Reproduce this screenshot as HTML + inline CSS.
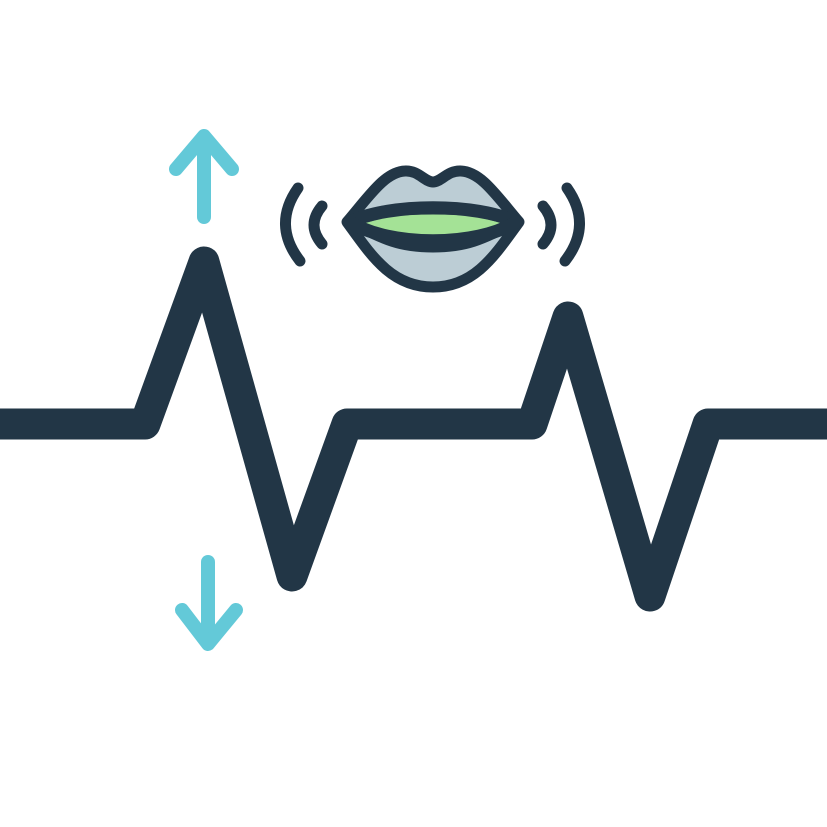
<!DOCTYPE html>
<html><head><meta charset="utf-8"><style>html,body{margin:0;padding:0;background:#fff}svg{display:block}</style></head>
<body>
<svg width="827" height="827" viewBox="0 0 827 827" xmlns="http://www.w3.org/2000/svg">
<rect width="827" height="827" fill="#fff"/>
<polyline points="-10,424 145,424 204,262 292,576 347,424 532,424 568,317 650,596 708,424 840,424" fill="none" stroke="#223646" stroke-width="31" stroke-linejoin="round" stroke-linecap="round"/>
<g fill="none" stroke="#63c9d8" stroke-width="14" stroke-linecap="round" stroke-linejoin="round">
<line x1="204" y1="142" x2="204" y2="217"/>
<polyline points="176,169 204,136 232,169"/>
<line x1="208" y1="562" x2="208" y2="640"/>
<polyline points="182,610 208,644 236,610"/>
</g>
<g fill="none" stroke="#223646" stroke-width="11" stroke-linecap="round">
<path d="M298,188 Q272,225 300,261"/>
<path d="M322,206 Q306,225 322,244"/>
<path d="M567,188 Q593,225 565,261"/>
<path d="M543,206 Q559,225 543,244"/>
</g>
<path d="M347,222 C370,195 385,172 405,171 C418,170 425,182 433,182 C441,182 448,170 461,171 C481,172 496,195 519,222 C495,255 475,287 433,287 C391,287 371,255 347,222 Z" fill="#bccdd5" stroke="#223646" stroke-width="11" stroke-linejoin="round"/>
<path d="M350,222 C385,210 400,209 433,209 C466,209 481,210 516,222 C481,240 466,247 433,247 C400,247 385,240 350,222 Z" fill="#a4e296" stroke="#223646" stroke-width="11" stroke-linejoin="round"/>
<path d="M350,222 C390,203 476,203 516,222" fill="none" stroke="#223646" stroke-width="13" stroke-linecap="round"/>
<path d="M350,222 C390,247 476,247 516,222" fill="none" stroke="#223646" stroke-width="13" stroke-linecap="round"/>
</svg>
</body></html>
